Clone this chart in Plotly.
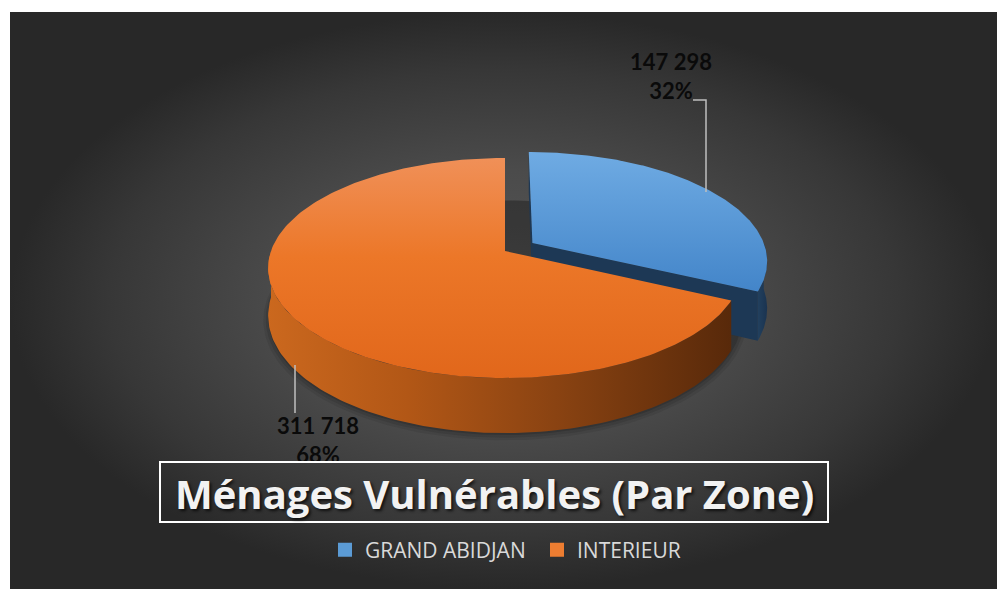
import numpy as np
import plotly.graph_objects as go

# ---------------- data ----------------
zones = ["GRAND ABIDJAN", "INTERIEUR"]
households = [147298, 311718]
title_text = "Ménages Vulnérables (Par Zone)"

# ---------------- style ----------------
W, H = 997, 589
# vertical gradients: first stop = bottom of face on screen (y axis reversed)
top_scales = [
    [[0, "#4385C9"], [1, "#6FABE3"]],
    [[0, "#E1671B"], [0.55, "#EC7728"], [1, "#F09058"]],
]
side_scales = [
    [[0, "#22405E"], [1, "#1A3350"]],
    [[0, "#CB681E"], [0.3, "#B25716"], [0.62, "#8A4312"], [1, "#58290A"]],
]
cut_colors = ["#1D3855", "#5A2A0B"]
legend_colors = ["#5B9BD5", "#ED7D31"]
explode = [0.14, 0.0]

# projection parameters (pixel geometry of the 3-D pie)
CX, CY, RX, RY, D, H0 = 505.0, 251.0, 234.0, 107.4, 6.46, 46.5


def project(u, w, depth=0.0):
    u = np.asarray(u, float)
    w = np.asarray(w, float)
    f = D / (D + w)
    return CX + RX * u * f, CY - RY * w * f + H0 * depth * f


fig = go.Figure()

# background panel with radial gradient
fig.add_trace(go.Scatter(
    x=[10, W, W, 10, 10], y=[12, 12, H, H, 12], mode="lines", line=dict(width=0),
    fill="toself",
    fillgradient=dict(type="radial",
                      colorscale=[[0, "#575757"], [0.45, "#4B4B4B"],
                                  [0.8, "#373737"], [1, "#282828"]]),
    hoverinfo="skip", showlegend=False))

total = float(sum(households))
start = 90.0
slices = []
for i, v in enumerate(households):
    sweep = 360.0 * v / total
    t0, t1 = start, start - sweep
    mid = np.radians((t0 + t1) / 2)
    ex, ey = explode[i] * np.cos(mid), explode[i] * np.sin(mid)
    slices.append(dict(i=i, t0=t0, t1=t1, mid=mid, ex=ex, ey=ey, v=v))
    start = t1

# soft shadow under the pie
ang = np.radians(np.linspace(0, 360, 240))
for k, a in enumerate([0.08, 0.10, 0.14]):
    s = 1.02 - 0.01 * k
    sx, sy = project(s * np.cos(ang), s * np.sin(ang), depth=1.0)
    fig.add_trace(go.Scatter(x=sx, y=sy + 4 - k, mode="lines", line=dict(width=0),
                             fill="toself", fillcolor=f"rgba(0,0,0,{a})",
                             hoverinfo="skip", showlegend=False))

# draw far slices first
for sl in sorted(slices, key=lambda s: -np.sin(s["mid"])):
    i, ex, ey = sl["i"], sl["ex"], sl["ey"]
    t0, t1 = sl["t0"], sl["t1"]
    # visible outer rim (front facing: sin(theta) < 0)
    for k in (-1, 0):
        a0, a1 = max(t1, -180 + 360 * k), min(t0, 0 + 360 * k)
        if a1 - a0 > 0.2:
            th = np.radians(np.linspace(a0, a1, 120))
            tx, ty = project(ex + np.cos(th), ey + np.sin(th), 0)
            bx, by = project(ex + np.cos(th), ey + np.sin(th), 1)
            fig.add_trace(go.Scatter(
                x=np.concatenate([tx, bx[::-1], tx[:1]]),
                y=np.concatenate([ty, by[::-1], ty[:1]]),
                mode="lines", line=dict(width=0), fill="toself",
                fillgradient=dict(type="horizontal", colorscale=side_scales[i]),
                hoverinfo="skip", showlegend=False))
    # radial cut faces
    for t, nrm in ((t0, t0 + 90), (t1, t1 - 90)):
        n = np.array([np.cos(np.radians(nrm)), np.sin(np.radians(nrm))])
        if n @ np.array([-ex, -D - ey]) > 0.01:
            r = np.radians(t)
            us = [ex, ex + np.cos(r), ex + np.cos(r), ex]
            ws = [ey, ey + np.sin(r), ey + np.sin(r), ey]
            ds = [0, 0, 1, 1]
            px, py = zip(*[project(u, w, d) for u, w, d in zip(us, ws, ds)])
            fig.add_trace(go.Scatter(
                x=list(px) + [px[0]], y=list(py) + [py[0]], mode="lines",
                line=dict(width=0), fill="toself", fillcolor=cut_colors[i],
                hoverinfo="skip", showlegend=False))
    # top face
    th = np.radians(np.linspace(t0, t1, 200))
    ax, ay = project(ex + np.cos(th), ey + np.sin(th), 0)
    cx0, cy0 = project(ex, ey, 0)
    fig.add_trace(go.Scatter(
        x=np.concatenate([[cx0], ax, [cx0]]), y=np.concatenate([[cy0], ay, [cy0]]),
        mode="lines", line=dict(width=0), fill="toself",
        fillgradient=dict(type="vertical", colorscale=top_scales[i]),
        hoverinfo="skip", showlegend=False))

# data labels
label_pos = [(671, 79), (318, 443)]
for sl in slices:
    v = sl["v"]
    txt = f"{v:,}".replace(",", " ") + f"<br>{round(100 * v / total)}%"
    lx, ly = label_pos[sl["i"]]
    fig.add_trace(go.Scatter(
        x=[lx], y=[ly], mode="text", text=[txt], textposition="middle center",
        textfont=dict(family="Lato", size=22, color="#0A0A0A", weight="bold"),
        hoverinfo="skip", showlegend=False))

# legend entries
for name, col in zip(zones, legend_colors):
    fig.add_trace(go.Scatter(x=[None], y=[None], mode="markers", name=name,
                             marker=dict(symbol="square", size=14, color=col)))

fig.update_layout(
    width=W, height=H, margin=dict(l=0, r=0, t=0, b=0),
    paper_bgcolor="white", plot_bgcolor="rgba(0,0,0,0)",
    xaxis=dict(range=[0, W], visible=False, fixedrange=True),
    yaxis=dict(range=[H, 0], visible=False, fixedrange=True),
    showlegend=True,
    legend=dict(orientation="h", x=325 / W, xanchor="left", y=1 - 550 / H,
                yanchor="middle", bgcolor="rgba(0,0,0,0)", itemwidth=30,
                entrywidth=167, entrywidthmode="pixels",
                font=dict(family="Open Sans", size=21, color="#D9D9D9"),
                itemclick=False, itemdoubleclick=False),
    shapes=[
        dict(type="path", path="M 693 100 L 706 100 L 706 192",
             line=dict(color="#BFBFBF", width=1.5)),
        dict(type="path", path="M 295 365 L 295 413",
             line=dict(color="#BFBFBF", width=1.5)),
        dict(type="rect", x0=160, y0=462, x1=828, y1=522,
             line=dict(color="white", width=2)),
    ],
    annotations=[dict(
        x=494, y=493, text=title_text, showarrow=False,
        font=dict(family="Open Sans", size=40, color="#F2F2F2", weight="bold",
                  shadow="2px 2px 3px rgba(0,0,0,0.7)"))],
)

fig.write_html("out.html", config={"displayModeBar": False, "staticPlot": True},
               post_script="document.body.style.margin='0';document.body.style.overflow='hidden';")
